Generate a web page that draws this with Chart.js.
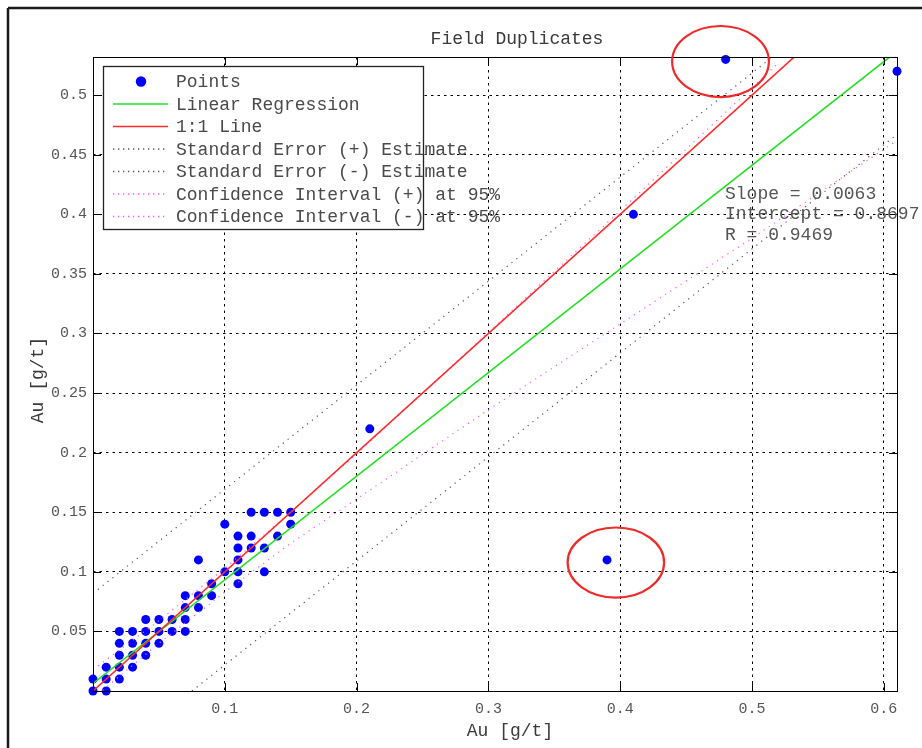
<!DOCTYPE html>
<html>
<head>
<meta charset="utf-8">
<script src="https://cdn.jsdelivr.net/npm/chart.js@4/dist/chart.umd.min.js"></script>
<style>
html,body{margin:0;padding:0;background:#fff;}
#wrap{width:922px;height:748px;position:relative;}
</style>
</head>
<body>
<div id="wrap"><canvas id="c" width="922" height="748"></canvas></div>
<script>
// ---- text ----
const chartTitle = 'Field Duplicates';
const xAxisTitle = 'Au [g/t]';
const yAxisTitle = 'Au [g/t]';
const seriesLabels = ['Points', 'Linear Regression', '1:1 Line',
  'Standard Error (+) Estimate', 'Standard Error (-) Estimate',
  'Confidence Interval (+) at 95%', 'Confidence Interval (-) at 95%'];
const statsLabels = ['Slope = 0.0063', 'Intercept = 0.8697', 'R = 0.9469'];
const statsAnchor = [0.4795, 0.4168];

// ---- ticks ----
const xTicks = [0.1, 0.2, 0.3, 0.4, 0.5, 0.6];
const xTickLabels = ['0.1', '0.2', '0.3', '0.4', '0.5', '0.6'];
const yTicks = [0.05, 0.1, 0.15, 0.2, 0.25, 0.3, 0.35, 0.4, 0.45, 0.5];
const yTickLabels = ['0.05', '0.1', '0.15', '0.2', '0.25', '0.3', '0.35', '0.4', '0.45', '0.5'];

// ---- data points ----
const pointX = [0, 0, 0.01, 0.01, 0.01, 0.02, 0.02, 0.02, 0.02, 0.02,
  0.03, 0.03, 0.03, 0.03, 0.04, 0.04, 0.04, 0.04, 0.05, 0.05, 0.05,
  0.06, 0.06, 0.07, 0.07, 0.07, 0.07, 0.08, 0.08, 0.08, 0.09, 0.09,
  0.10, 0.10, 0.11, 0.11, 0.11, 0.11, 0.11, 0.12, 0.12, 0.12,
  0.13, 0.13, 0.13, 0.14, 0.14, 0.15, 0.15,
  0.21, 0.39, 0.41, 0.48, 0.61];
const pointY = [0, 0.01, 0, 0.01, 0.02, 0.01, 0.02, 0.03, 0.04, 0.05,
  0.02, 0.03, 0.04, 0.05, 0.03, 0.04, 0.05, 0.06, 0.04, 0.05, 0.06,
  0.05, 0.06, 0.05, 0.06, 0.07, 0.08, 0.07, 0.08, 0.11, 0.08, 0.09,
  0.10, 0.14, 0.09, 0.10, 0.11, 0.12, 0.13, 0.12, 0.13, 0.15,
  0.10, 0.12, 0.15, 0.13, 0.15, 0.14, 0.15,
  0.22, 0.11, 0.40, 0.53, 0.52];

// ---- lines ----
const regressionX = [0, 0.61];
const regressionY = [0.0063, 0.5368];
const oneToOneX = [0, 0.61];
const oneToOneY = [0, 0.61];
const seUpperX = [0, 0.52];
const seUpperY = [0.082, 0.536];
const seLowerX = [0.075, 0.61];
const seLowerY = [0, 0.467];
const ciUpperX = [0, 0.05, 0.1, 0.15, 0.2, 0.3, 0.4, 0.52];
const ciUpperY = [0.018, 0.059, 0.103, 0.150, 0.199, 0.301, 0.403, 0.527];
const ciLowerX = [0, 0.05, 0.1, 0.15, 0.2, 0.3, 0.4, 0.5, 0.61];
const ciLowerY = [-0.006, 0.040, 0.083, 0.124, 0.161, 0.236, 0.308, 0.380, 0.462];

// ---- hand-drawn circles (data units) ----
const circleCX = [0.4761, 0.3967];
const circleCY = [0.5282, 0.1078];
const circleRX = [0.0367, 0.0366];
const circleRY = [0.0298, 0.0294];

const MONO = '"Liberation Mono", "DejaVu Sans Mono", monospace';
const zip = (xs, ys) => xs.map((v, i) => ({x: v, y: ys[i]}));

const datasets = [
  {label: seriesLabels[0], data: zip(pointX, pointY), showLine: false,
   pointRadius: 4.5, pointBackgroundColor: '#0000ff', pointBorderColor: '#0000ff',
   pointBorderWidth: 0, order: 10, clip: false},
  {label: seriesLabels[1], data: zip(regressionX, regressionY), showLine: true,
   borderColor: '#1fe01f', borderWidth: 1.6, pointRadius: 0, order: 1},
  {label: seriesLabels[2], data: zip(oneToOneX, oneToOneY), showLine: true,
   borderColor: '#ff2a2a', borderWidth: 1.6, pointRadius: 0, order: 0},
  {label: seriesLabels[3], data: zip(seUpperX, seUpperY), showLine: true,
   borderColor: '#555555', borderWidth: 1.2, borderDash: [1.2, 5], pointRadius: 0, order: 3},
  {label: seriesLabels[4], data: zip(seLowerX, seLowerY), showLine: true,
   borderColor: '#555555', borderWidth: 1.2, borderDash: [1.2, 5], pointRadius: 0, order: 3},
  {label: seriesLabels[5], data: zip(ciUpperX, ciUpperY), showLine: true,
   borderColor: '#ff55ff', borderWidth: 1.2, borderDash: [1.2, 5], pointRadius: 0, order: 2},
  {label: seriesLabels[6], data: zip(ciLowerX, ciLowerY), showLine: true,
   borderColor: '#ff55ff', borderWidth: 1.2, borderDash: [1.2, 5], pointRadius: 0, order: 2}
];

function seg(ctx, x1, y1, x2, y2) {
  ctx.beginPath(); ctx.moveTo(x1, y1); ctx.lineTo(x2, y2); ctx.stroke();
}

const decor = {
  id: 'decor',
  afterDatasetsDraw(chart) {
    const {ctx, chartArea: a, scales: {x, y}} = chart;
    ctx.save();
    ctx.setLineDash([]);
    // plot box
    ctx.strokeStyle = '#000'; ctx.lineWidth = 1;
    ctx.strokeRect(Math.round(a.left) + 0.5, Math.round(a.top) + 0.5,
      Math.round(a.right - a.left), Math.round(a.bottom - a.top));
    // inner tick marks on all four sides
    xTicks.forEach(v => {
      const px = Math.round(x.getPixelForValue(v)) + 0.5;
      seg(ctx, px, a.bottom, px, a.bottom - 8);
      seg(ctx, px, a.top, px, a.top + 8);
    });
    yTicks.forEach(v => {
      const py = Math.round(y.getPixelForValue(v)) + 0.5;
      seg(ctx, a.left, py, a.left + 8, py);
      seg(ctx, a.right, py, a.right - 8, py);
    });
    // stats text
    ctx.font = '18px ' + MONO;
    ctx.fillStyle = '#555';
    ctx.textAlign = 'left'; ctx.textBaseline = 'middle';
    const sx = x.getPixelForValue(statsAnchor[0]);
    const sy = y.getPixelForValue(statsAnchor[1]);
    statsLabels.forEach((t, i) => ctx.fillText(t, sx, sy + i * 20.3));
    // legend
    const lx = a.left + 10, ly = a.top + 9, lw = 320, lh = 163;
    ctx.fillStyle = '#fff';
    ctx.fillRect(lx, ly, lw, lh);
    ctx.strokeStyle = '#222'; ctx.lineWidth = 1.3;
    ctx.strokeRect(lx + 0.5, ly + 0.5, lw, lh);
    chart.data.datasets.forEach((ds, i) => {
      const ry = ly + 15.5 + i * 22.5;
      if (!ds.showLine) {
        ctx.fillStyle = ds.pointBackgroundColor;
        ctx.beginPath(); ctx.arc(lx + 38, ry, 5.2, 0, Math.PI * 2); ctx.fill();
      } else {
        ctx.strokeStyle = ds.borderColor;
        ctx.lineWidth = ds.borderDash ? 1.3 : 1.6;
        ctx.setLineDash(ds.borderDash ? [1.3, 3.7] : []);
        seg(ctx, lx + 10, ry, lx + 65, ry);
        ctx.setLineDash([]);
      }
      ctx.fillStyle = '#4a4a4a';
      ctx.font = '18px ' + MONO;
      ctx.textAlign = 'left'; ctx.textBaseline = 'middle';
      ctx.fillText(ds.label, lx + 73, ry + 1);
    });
    // red circles
    ctx.strokeStyle = '#ee2a2a'; ctx.lineWidth = 2.2;
    circleCX.forEach((cx, i) => {
      const px = x.getPixelForValue(cx), py = y.getPixelForValue(circleCY[i]);
      const rx = x.getPixelForValue(cx + circleRX[i]) - px;
      const rY = py - y.getPixelForValue(circleCY[i] + circleRY[i]);
      ctx.beginPath(); ctx.ellipse(px, py, rx, rY, 0, 0, Math.PI * 2); ctx.stroke();
    });
    ctx.restore();
  },
  afterDraw(chart) {
    const {ctx, chartArea: a} = chart;
    ctx.save();
    // outer frame (left and top)
    ctx.strokeStyle = '#1a1a1a'; ctx.lineWidth = 2.5;
    seg(ctx, 8, 8, 8, 748);
    seg(ctx, 8, 8, 922, 8);
    // titles
    ctx.fillStyle = '#3a3a3a';
    ctx.font = '18px ' + MONO;
    ctx.textAlign = 'center'; ctx.textBaseline = 'middle';
    ctx.fillText(chartTitle, (a.left + a.right) / 2 + 22, a.top - 18);
    ctx.fillText(xAxisTitle, (a.left + a.right) / 2 + 15, a.bottom + 40);
    ctx.translate(38, (a.top + a.bottom) / 2 + 6);
    ctx.rotate(-Math.PI / 2);
    ctx.fillText(yAxisTitle, 0, 0);
    ctx.restore();
  }
};

new Chart(document.getElementById('c'), {
  type: 'scatter',
  data: {datasets},
  options: {
    responsive: false,
    animation: false,
    events: [],
    layout: {padding: {left: 0, top: 57, right: 25, bottom: 0}},
    plugins: {legend: {display: false}, title: {display: false}, tooltip: {enabled: false}},
    scales: {
      x: {
        type: 'linear', min: 0, max: 0.61,
        afterBuildTicks: s => { s.ticks = xTicks.map(v => ({value: v})); },
        afterFit: s => { s.height = 57; },
        ticks: {callback: (v) => xTickLabels[xTicks.indexOf(v)], autoSkip: false, maxRotation: 0,
          font: {family: MONO, size: 15}, color: '#555', padding: 9},
        grid: {color: '#000', lineWidth: 1, drawTicks: false},
        border: {display: false, dash: [2.5, 4]}
      },
      y: {
        type: 'linear', min: 0, max: 0.532,
        afterBuildTicks: s => { s.ticks = yTicks.map(v => ({value: v})); },
        afterFit: s => { s.width = 93; },
        ticks: {callback: (v) => yTickLabels[yTicks.indexOf(v)], autoSkip: false,
          font: {family: MONO, size: 15}, color: '#555', padding: 6},
        grid: {color: '#000', lineWidth: 1, drawTicks: false},
        border: {display: false, dash: [2.5, 4]}
      }
    }
  },
  plugins: [decor]
});
</script>
</body>
</html>
